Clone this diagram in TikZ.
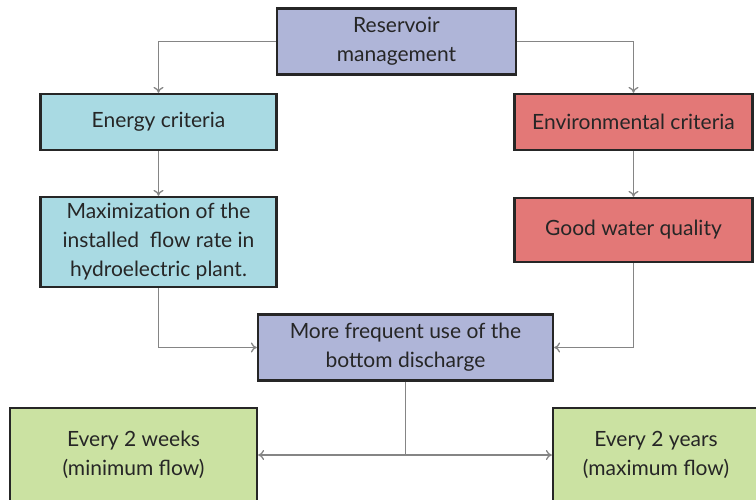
\documentclass[tikz,border=0pt]{standalone}
\usepackage{fontspec}
\setmainfont{Lato}
\usetikzlibrary{arrows.meta}
\definecolor{lav}{HTML}{AFB5D8}
\definecolor{lblue}{HTML}{A9DAE3}
\definecolor{lred}{HTML}{E37877}
\definecolor{lgreen}{HTML}{CBE2A2}
\definecolor{txt}{HTML}{262626}
\definecolor{conn}{HTML}{858585}
\begin{document}
\begin{tikzpicture}[x=1pt,y=-1pt,
  box/.style={draw=black!85, line width=2.2pt, align=center, inner sep=2pt,
    text=txt, font=\fontsize{21}{29}\selectfont,
    execute at begin node={\vspace*{7pt}}},
  conn/.style={draw=conn, line width=1.3pt, -{To[length=6pt,width=10pt]}},
  link/.style={draw=conn, line width=1.3pt}]
\useasboundingbox (0,0) rectangle (756,500);
\clip (0,0) rectangle (756,500);
\node[box, fill=lav, minimum width=239pt, minimum height=66pt] (R) at (396.5,41.5) {Reservoir\\management};
\node[box, fill=lblue, minimum width=236pt, minimum height=56pt] (E) at (158.5,122) {Energy criteria};
\node[box, fill=lred, minimum width=238pt, minimum height=56pt] (V) at (633.5,122) {Environmental criteria};
\node[box, fill=lblue, minimum width=236pt, minimum height=90pt] (M) at (158.5,242) {Maximization of the\\installed\ \ flow rate in\\hydroelectric plant.};
\node[box, fill=lred, minimum width=238pt, minimum height=64pt] (G) at (633.5,230) {Good water quality};
\node[box, fill=lav, minimum width=295pt, minimum height=66pt] (F) at (405.5,347.5) {More frequent use of the\\bottom discharge};
\node[box, fill=lgreen, minimum width=247pt, minimum height=94pt] (W) at (133.5,455) {Every 2 weeks\\(minimum flow)};
\node[box, fill=lgreen, minimum width=206pt, minimum height=94pt] (Y) at (656,455) {Every 2 years\\(maximum flow)};
\coordinate (J) at (F.south |- W.east);
\draw[conn] (R.west) -| (E.north);
\draw[conn] (R.east) -| (V.north);
\draw[conn] (E.south) -- (M.north);
\draw[conn] (V.south) -- (G.north);
\draw[conn] (M.south) |- (F.west);
\draw[conn] (G.south) |- (F.east);
\draw[link] (F.south) -- (J);
\draw[conn] (J) -- (W.east);
\draw[conn] (J) -- (Y.west);
\end{tikzpicture}
\end{document}
